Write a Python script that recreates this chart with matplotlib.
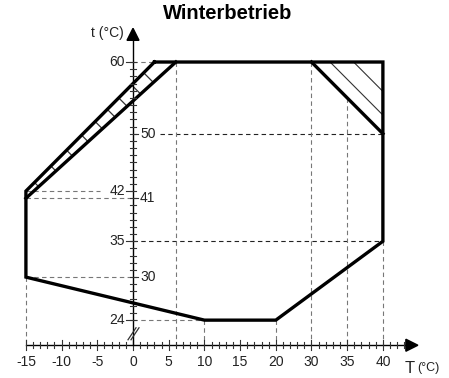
import numpy as np
import matplotlib
matplotlib.use('Agg')
import matplotlib.pyplot as plt
from matplotlib.patches import Polygon

plt.rcParams['font.family'] = ['Liberation Sans', 'DejaVu Sans']

# Betriebsbereich (T = Aussentemperatur, t = Vorlauftemperatur)
area_T = [3, 40, 40, 20, 10, -15, -15, 3]
area_t = [60, 60, 35, 24, 24, 30, 42, 60]
inner_T = [-15, 6]
inner_t = [41, 60]
diag_T = [30, 40]
diag_t = [60, 50]

# Leitersprossen im linken Band (t auf der aeusseren Linie)
rung_t = [43.2, 45.5, 47.7, 49.8, 51.7, 53.4, 55.0, 56.8, 58.5]
# Schraffur rechts: Versatz der duennen Linien (T + t = 90 + off)
hatch_off = [2.6, 5.9]

x_ticks = [-15, -10, -5, 0, 5, 10, 15, 20, 30, 35, 40]
y_left = [60, 42, 35, 24]
y_right = [50, 41, 30]

# Hilfslinien: (T_von, T_bis, t) und (T, t_von, t_bis)
x_axis_t = 20.5
h_gray = [(0, 3, 60), (-15, -4.6, 42), (-15, 0, 41), (-15, 0, 30), (0, 10, 24)]
h_dark = [(3.8, 40, 50), (0, 40, 35)]
v_gray = [(-15, 30), (6, 60), (10, 24), (20, 24), (30, 60), (35, 55), (40, 35)]


def xp(T):
    # Achse zwischen 20 und 30 gestaucht (25 fehlt)
    T = np.asarray(T, dtype=float)
    return np.where(T <= 20, T, T - 5)


fig = plt.figure(figsize=(4.49, 3.78), dpi=100)
ax = fig.add_axes([0, 0, 1, 1])
ax.set_xlim(-18.63, 44.26)
ax.set_ylim(15.93, 68.65)
ax.axis('off')

px = 1 / 7.14   # 1 Pixel in x-Einheiten
py = 1 / 7.17   # 1 Pixel in y-Einheiten
dash = dict(lw=0.8, linestyle=(0, (4, 3)))

for a, b, t in h_gray:
    ax.plot(xp([a, b]), [t, t], color='#777777', **dash)
for a, b, t in h_dark:
    ax.plot(xp([a, b]), [t, t], color='#222222', **dash)
for T, t in v_gray:
    ax.plot(xp([T, T]), [t, x_axis_t], color='#777777', **dash)

# Schraffur rechts oben
for off in hatch_off:
    T0 = 30 + off
    ax.plot(xp([T0, 40]), [60, 60 - (40 - T0)], color='#333333', lw=0.8)

# Sprossen zwischen aeusserer und innerer Linie
k = (inner_t[1] - inner_t[0]) / (inner_T[1] - inner_T[0])
for t0 in rung_t:
    T0 = t0 - 57
    s = (T0 + 57 - inner_t[0] - k * (T0 - inner_T[0])) / (1 + k)
    ax.plot(xp([T0, T0 + s]), [t0, t0 - s], color='#333333', lw=0.9)

# Umrisse
ax.plot(xp(area_T), area_t, color='black', lw=2.4, solid_joinstyle='miter')
ax.plot(xp(inner_T), inner_t, color='black', lw=2.4)
ax.plot(xp(diag_T), diag_t, color='black', lw=2.4)

# x-Achse
x_end = 39.9
ax.plot([-15, x_end - 10 * px], [x_axis_t, x_axis_t], color='black', lw=1)
ax.add_patch(Polygon([[x_end, x_axis_t], [x_end - 12 * px, x_axis_t + 6 * py],
                      [x_end - 12 * px, x_axis_t - 6 * py]], color='black'))
for p in np.arange(-15, 38.5, 1):
    h = 5 if p % 5 == 0 else 3
    ax.plot([p, p], [x_axis_t - h * py, x_axis_t + h * py], color='#333333', lw=0.8)
for T in x_ticks:
    ax.text(float(xp(T)), x_axis_t - 17 * py, str(T), ha='center', va='center',
            fontsize=10, color='#222222')
ax.text(x_end - 13 * px, x_axis_t - 23 * py, 'T', ha='left', va='center',
        fontsize=12, color='#222222')
ax.text(x_end - 1 * px, x_axis_t - 23 * py, '(°C)', ha='left', va='center',
        fontsize=9, color='#222222')

# y-Achse
y_top = 64.7
ax.plot([0, 0], [x_axis_t, y_top - 8 * py], color='black', lw=1)
ax.add_patch(Polygon([[0, y_top], [-6 * px, y_top - 12 * py],
                      [6 * px, y_top - 12 * py]], color='black'))
for t in range(24, 61):
    ax.plot([-3 * px, 3 * px], [t, t], color='#333333', lw=0.8)
for t in y_left:
    ax.plot([-7 * px, 0], [t, t], color='#333333', lw=0.8)
    ax.text(-8 * px, t, str(t), ha='right', va='center', fontsize=10, color='#222222')
for t in y_right:
    ax.plot([0, 5 * px], [t, t], color='#333333', lw=0.8)
    ax.text(7 * px, t, str(t), ha='left', va='center', fontsize=10, color='#222222')
ax.text(-9 * px, y_top - 5 * py, 't (°C)', ha='right', va='center',
        fontsize=10, color='#222222')

# Achsenbruch
for d in (0, 3):
    ax.plot([(-5 + d) * px, (3 + d) * px], [22.1 - 6 * py, 22.1 + 6 * py],
            color='#333333', lw=0.9)

ax.text(13.3, 66.7, 'Winterbetrieb', ha='center', va='center',
        fontsize=14.5, fontweight='bold')

fig.savefig('out.png', dpi=100)
